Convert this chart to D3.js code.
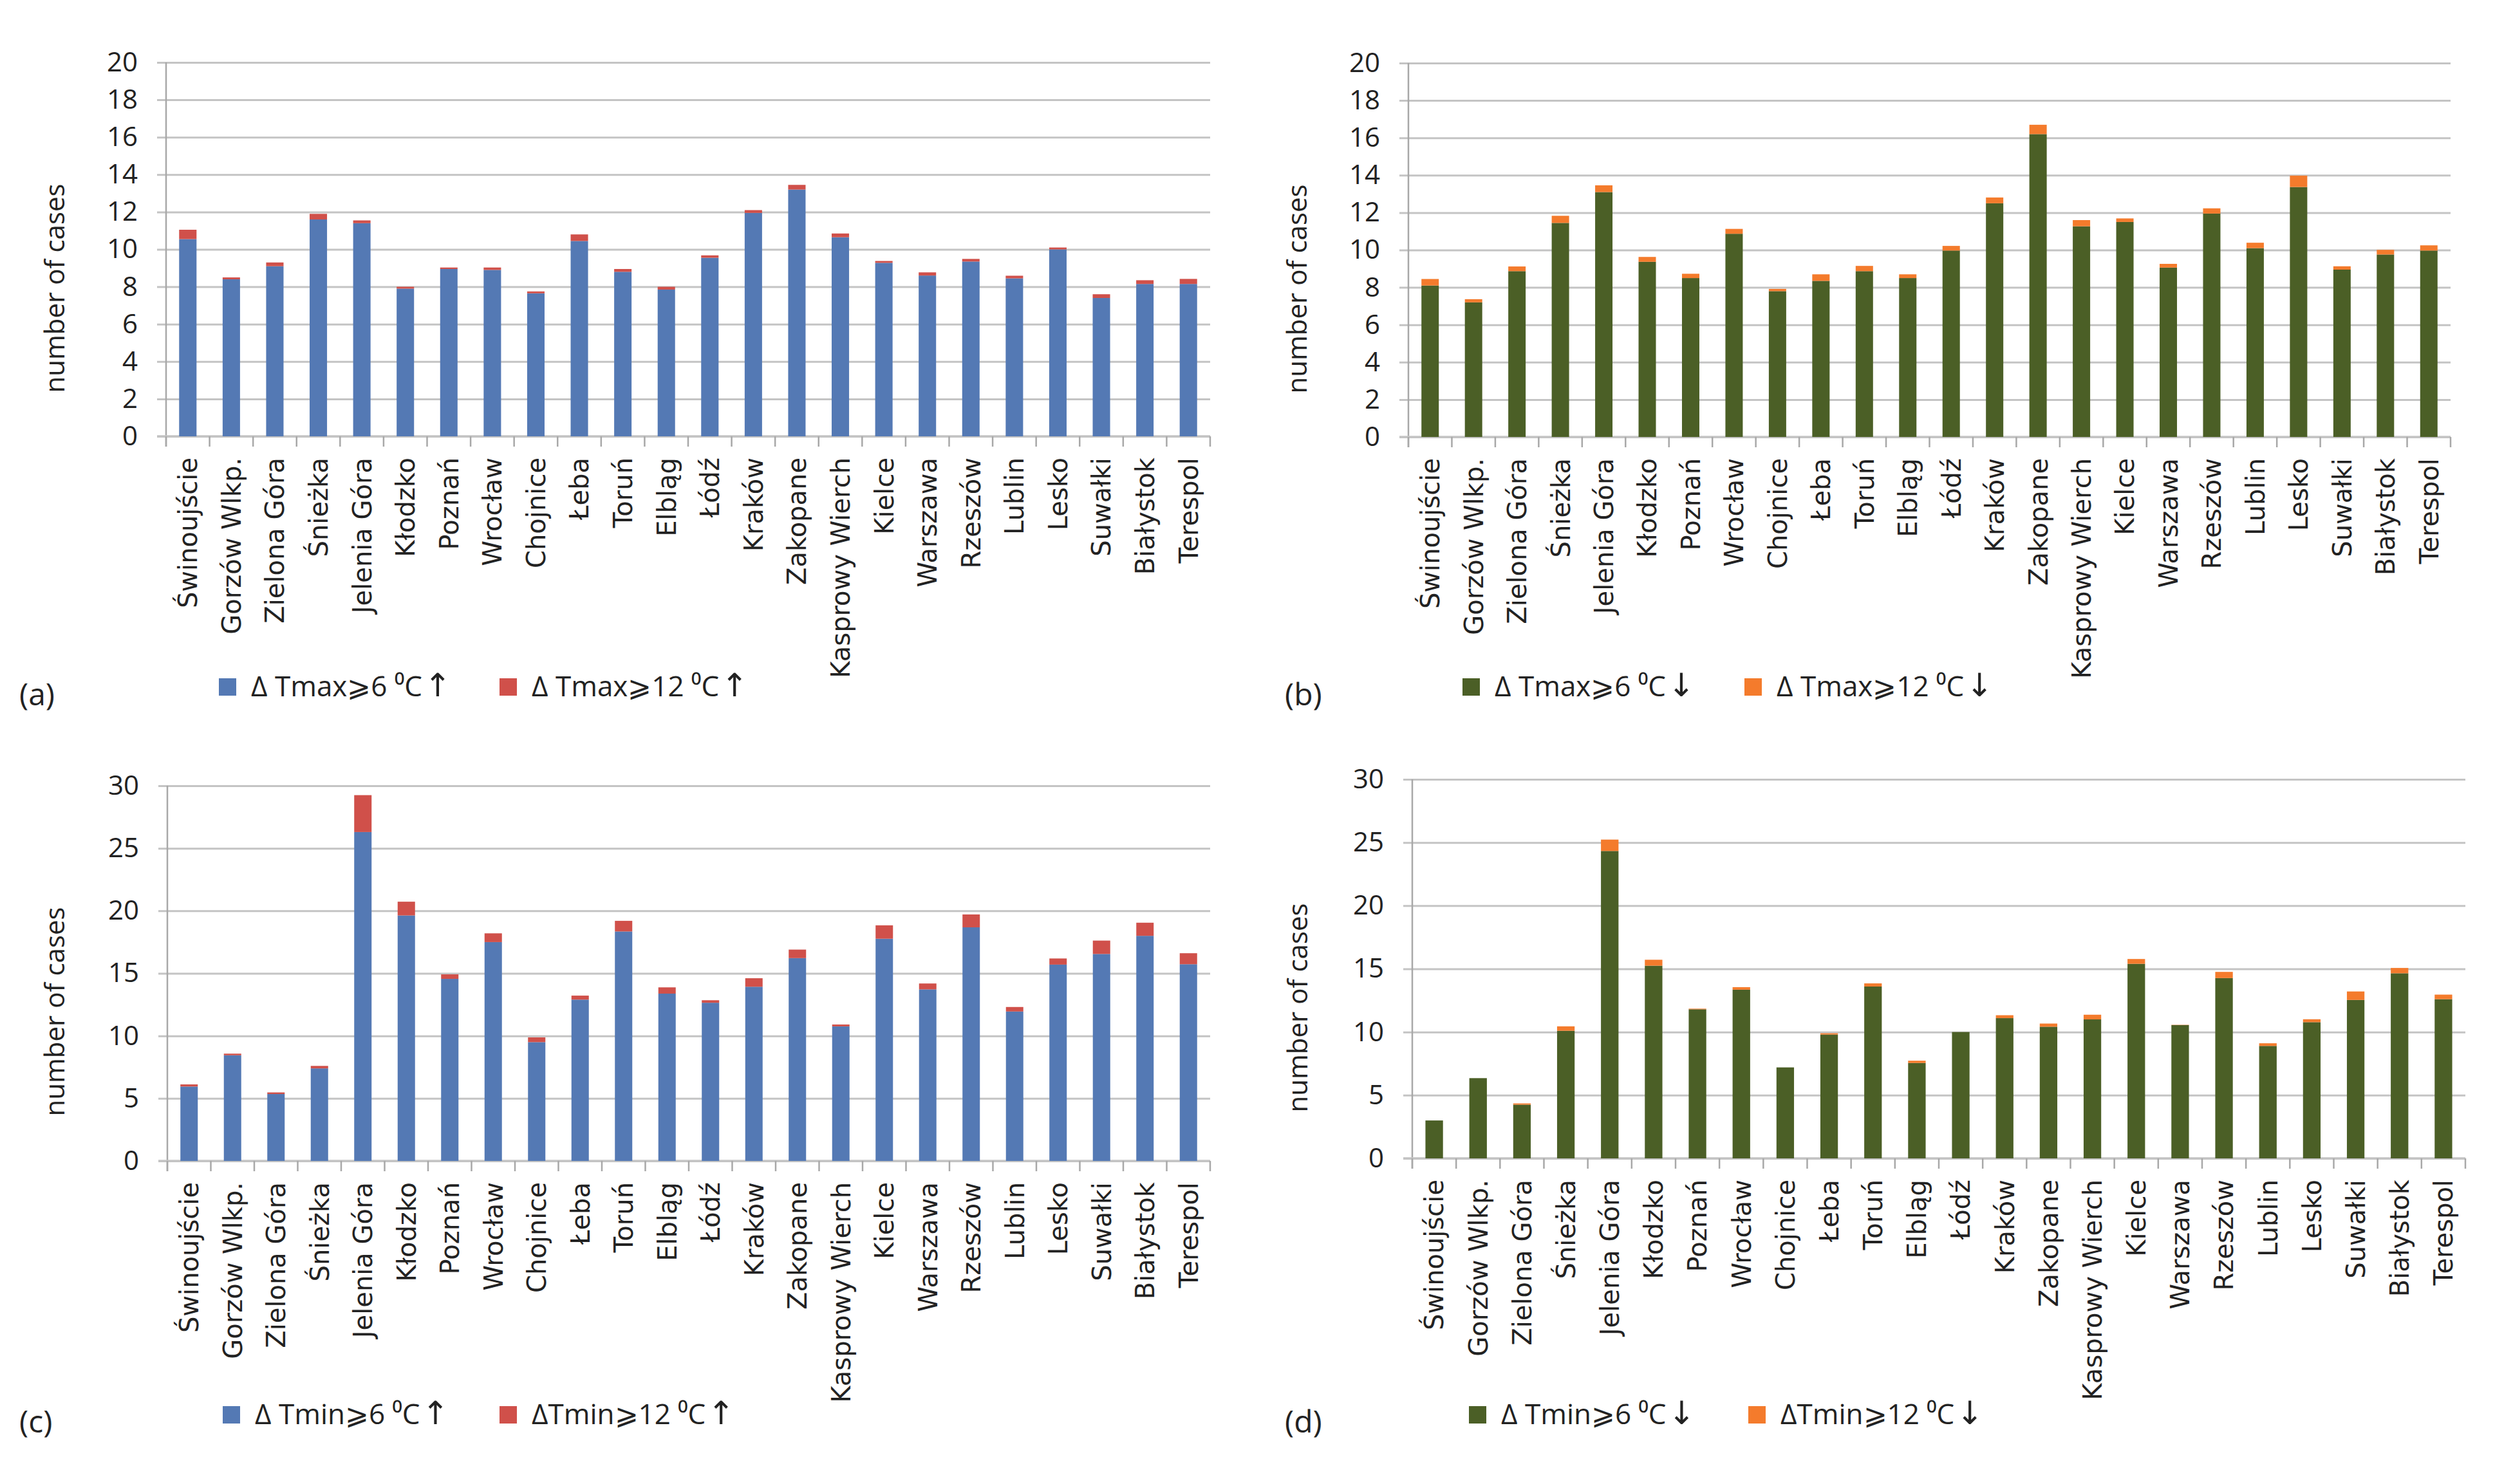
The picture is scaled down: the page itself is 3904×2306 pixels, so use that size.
<!DOCTYPE html>
<html><head><meta charset="utf-8">
<script src="https://cdn.jsdelivr.net/npm/d3@7"></script>
<style>body{margin:0;background:#fff} svg{display:block;background:#fff}</style>
</head><body>
<svg id="chart" width="3904" height="2306"></svg>
<script>
const categories = ["Świnoujście","Gorzów Wlkp.","Zielona Góra","Śnieżka","Jelenia Góra","Kłodzko","Poznań","Wrocław","Chojnice","Łeba","Toruń","Elbląg","Łódź","Kraków","Zakopane","Kasprowy Wierch","Kielce","Warszawa","Rzeszów","Lublin","Lesko","Suwałki","Białystok","Terespol"];

// (a) ΔTmax ↑
const aBase  = [10.55,8.4,9.1,11.6,11.4,7.9,8.95,8.9,7.65,10.45,8.8,7.85,9.55,11.95,13.2,10.65,9.28,8.6,9.35,8.45,10.0,7.4,8.15,8.15];
const aExtra = [0.5,0.1,0.2,0.3,0.15,0.1,0.08,0.13,0.1,0.35,0.15,0.15,0.13,0.15,0.25,0.2,0.1,0.17,0.14,0.14,0.1,0.2,0.2,0.27];
// (b) ΔTmax ↓
const bBase  = [8.1,7.2,8.87,11.45,13.1,9.37,8.5,10.87,7.8,8.35,8.87,8.5,9.97,12.5,16.2,11.27,11.5,9.06,11.95,10.1,13.37,8.95,9.76,9.97];
const bExtra = [0.35,0.17,0.25,0.38,0.36,0.26,0.23,0.26,0.12,0.35,0.28,0.2,0.25,0.31,0.5,0.33,0.19,0.2,0.28,0.29,0.61,0.18,0.25,0.28];
// (c) ΔTmin ↑
const cBase  = [5.95,8.45,5.35,7.4,26.3,19.63,14.56,17.5,9.5,12.9,18.35,13.38,12.65,13.93,16.22,10.76,17.77,13.72,18.68,11.95,15.7,16.55,18.0,15.73];
const cExtra = [0.17,0.13,0.13,0.2,2.95,1.1,0.36,0.7,0.38,0.32,0.85,0.5,0.2,0.68,0.68,0.15,1.07,0.47,1.03,0.36,0.49,1.07,1.05,0.88];
// (d) ΔTmin ↓
const dBase  = [3.0,6.35,4.25,10.1,24.33,15.25,11.8,13.35,7.2,9.8,13.6,7.55,10.0,11.1,10.42,11.0,15.4,10.55,14.27,8.9,10.78,12.54,14.65,12.6];
const dExtra = [0,0,0.1,0.35,0.9,0.47,0.05,0.2,0,0.1,0.25,0.18,0,0.23,0.25,0.37,0.38,0.02,0.49,0.21,0.23,0.67,0.42,0.36];

const ticks20 = [0,2,4,6,8,10,12,14,16,18,20];
const ticks30 = [0,5,10,15,20,25,30];

// legend label parts: [main text, arrow]
const legendA = [["Δ Tmax⩾6 ⁰C","↑"],["Δ Tmax⩾12 ⁰C","↑"]];
const legendB = [["Δ Tmax⩾6 ⁰C","↓"],["Δ Tmax⩾12 ⁰C","↓"]];
const legendC = [["Δ Tmin⩾6 ⁰C","↑"],["ΔTmin⩾12  ⁰C","↑"]];
const legendD = [["Δ Tmin⩾6 ⁰C","↓"],["ΔTmin⩾12 ⁰C","↓"]];
const panelLabels = ["(a)","(b)","(c)","(d)"];
const yTitle = "number of cases";

const BLUE="#5479b4", RED="#d0504a", GREEN="#4b5f26", ORANGE="#f47b2c";

const panels = [
  {lab:panelLabels[0], base:aBase, extra:aExtra, yMax:20, ticks:ticks20, colors:[BLUE,RED], legend:legendA,
   x0:258, x1:1880, yTop:97, yBot:678, legY:1082, legX:[340,776], labX:30, labY:1096, titleX:100, titleY:448},
  {lab:panelLabels[1], base:bBase, extra:bExtra, yMax:20, ticks:ticks20, colors:[GREEN,ORANGE], legend:legendB,
   x0:2188, x1:3807, yTop:98, yBot:679, legY:1082, legX:[2272,2710], labX:1996, labY:1096, titleX:2030, titleY:449},
  {lab:panelLabels[2], base:cBase, extra:cExtra, yMax:30, ticks:ticks30, colors:[BLUE,RED], legend:legendC,
   x0:260, x1:1880, yTop:1221, yBot:1804, legY:2213, legX:[346,776], labX:30, labY:2226, titleX:100, titleY:1572},
  {lab:panelLabels[3], base:dBase, extra:dExtra, yMax:30, ticks:ticks30, colors:[GREEN,ORANGE], legend:legendD,
   x0:2194, x1:3830, yTop:1211, yBot:1800, legY:2213, legX:[2282,2716], labX:1996, labY:2226, titleX:2031, titleY:1566}
];

const svg = d3.select("#chart");
const GRID="#c4c4c4", AXIS="#a8a8a8", TXT="#222";

panels.forEach(p => {
  const g = svg.append("g");
  const x = d3.scaleBand().domain(categories).range([p.x0, p.x1]).paddingInner(0.6).paddingOuter(0.3);
  const y = d3.scaleLinear().domain([0, p.yMax]).range([p.yBot, p.yTop]);
  const step = x.step();

  // gridlines + y ticks
  const yAxis = d3.axisLeft(y).tickValues(p.ticks).tickSize(-(p.x1 - p.x0)).tickPadding(44).tickFormat(d3.format("d"));
  const ya = g.append("g").attr("transform", `translate(${p.x0},0)`).call(yAxis);
  ya.select(".domain").remove();
  ya.selectAll(".tick line").attr("stroke", GRID).attr("stroke-width", 3).attr("x1", -14);
  ya.selectAll(".tick text").attr("font-family","Open Sans").attr("font-size",42).attr("fill",TXT);

  // y axis line
  g.append("line").attr("x1",p.x0).attr("x2",p.x0).attr("y1",p.yTop).attr("y2",p.yBot+16)
    .attr("stroke",AXIS).attr("stroke-width",2.5);
  // x axis line
  g.append("line").attr("x1",p.x0-14).attr("x2",p.x1).attr("y1",p.yBot).attr("y2",p.yBot)
    .attr("stroke",GRID).attr("stroke-width",3.5);
  // boundary ticks
  const bounds = categories.map(c => x(c) - step*0.3).concat([x(categories[categories.length-1]) + x.bandwidth() + step*0.3]);
  g.selectAll(".bt").data(bounds).join("line")
    .attr("x1",d=>d).attr("x2",d=>d).attr("y1",p.yBot).attr("y2",p.yBot+16)
    .attr("stroke",AXIS).attr("stroke-width",2.5);

  // bars
  const rows = categories.map((c,i)=>({c, b:p.base[i], e:p.extra[i]}));
  g.selectAll(".b").data(rows).join("rect")
    .attr("x",d=>x(d.c)).attr("width",x.bandwidth())
    .attr("y",d=>y(d.b)).attr("height",d=>y(0)-y(d.b)).attr("fill",p.colors[0]);
  g.selectAll(".e").data(rows.filter(d=>d.e>0)).join("rect")
    .attr("x",d=>x(d.c)).attr("width",x.bandwidth())
    .attr("y",d=>y(d.b+d.e)).attr("height",d=>y(d.b)-y(d.b+d.e)).attr("fill",p.colors[1]);

  // category labels
  g.selectAll(".cl").data(categories).join("text")
    .attr("transform",d=>`translate(${x(d)+x.bandwidth()/2},${p.yBot+33}) rotate(-90)`)
    .attr("text-anchor","end").attr("dy","0.36em")
    .attr("font-family","DejaVu Sans").attr("font-size",40).attr("fill",TXT)
    .text(d=>d);

  // y title
  g.append("text").attr("transform",`translate(${p.titleX},${p.titleY}) rotate(-90)`)
    .attr("text-anchor","middle").attr("font-family","Open Sans").attr("font-size",42).attr("fill",TXT)
    .text(yTitle);

  // legend
  p.legend.forEach((t,i)=>{
    g.append("rect").attr("x",p.legX[i]).attr("y",p.legY-28).attr("width",27).attr("height",27).attr("fill",p.colors[i]);
    const tx = g.append("text").attr("x",p.legX[i]+50).attr("y",p.legY)
      .attr("font-family","Open Sans").attr("font-size",44).attr("fill",TXT);
    tx.append("tspan").text(t[0]);
    tx.append("tspan").attr("font-family","DejaVu Sans").attr("font-size",50).attr("dx",3).text(t[1]);
  });

  // panel label
  g.append("text").attr("x",p.labX).attr("y",p.labY)
    .attr("font-family","Open Sans").attr("font-size",48).attr("fill",TXT).text(p.lab);
});
</script>
</body></html>
